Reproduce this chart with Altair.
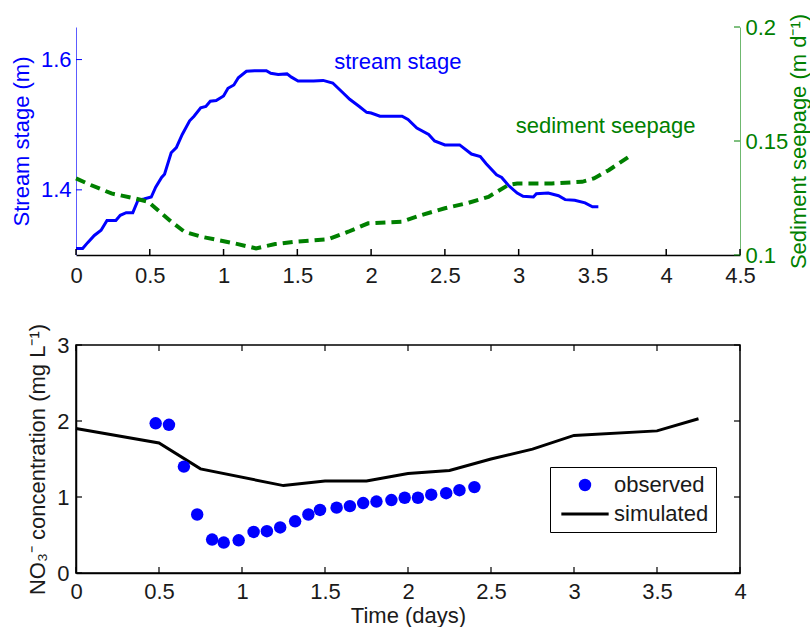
import altair as alt
import pandas as pd

FONT = "Liberation Sans"
FS = 22
BLUE = "#0000ff"
GREEN = "#008000"
INK = "#1a1a1a"

# ---------------- data ----------------
stage_t = [0, 0.045, 0.079, 0.124, 0.17, 0.21, 0.27, 0.30, 0.34, 0.385, 0.42, 0.46, 0.51, 0.54,
           0.58, 0.60, 0.645, 0.68, 0.72, 0.77, 0.80, 0.845, 0.88, 0.91, 0.95, 1.0, 1.03, 1.07,
           1.10, 1.155, 1.21, 1.29, 1.32, 1.37, 1.43, 1.46, 1.505, 1.61, 1.675, 1.74, 1.80,
           1.855, 1.92, 1.97, 2.0, 2.06, 2.21, 2.25, 2.31, 2.39, 2.43, 2.50, 2.60, 2.68, 2.74,
           2.78, 2.85, 2.885, 2.93, 2.99, 3.03, 3.10, 3.12, 3.20, 3.27, 3.315, 3.38, 3.45, 3.50, 3.54]
stage_m = [1.310, 1.310, 1.319, 1.330, 1.338, 1.353, 1.353, 1.361, 1.365, 1.365, 1.384, 1.386,
           1.389, 1.404, 1.419, 1.424, 1.457, 1.465, 1.485, 1.506, 1.513, 1.526, 1.528, 1.536,
           1.537, 1.544, 1.556, 1.561, 1.572, 1.582, 1.583, 1.583, 1.579, 1.577, 1.578, 1.573,
           1.567, 1.567, 1.568, 1.564, 1.551, 1.539, 1.528, 1.519, 1.518, 1.513, 1.513, 1.508,
           1.495, 1.485, 1.475, 1.469, 1.469, 1.455, 1.451, 1.440, 1.423, 1.419, 1.407, 1.395,
           1.390, 1.389, 1.394, 1.395, 1.391, 1.385, 1.384, 1.380, 1.374, 1.374]

seep_t = [0, 0.10, 0.24, 0.40, 0.49, 0.54, 0.645, 0.735, 0.85, 0.96, 1.075, 1.22, 1.35, 1.48,
          1.71, 1.845, 1.98, 2.21, 2.34, 2.50, 2.66, 2.795, 2.93, 2.99, 3.225, 3.43, 3.51, 3.61, 3.745]
seep_v = [0.1336, 0.1307, 0.1270, 0.1248, 0.1233, 0.1205, 0.1146, 0.1102, 0.1080, 0.1066,
          0.1051, 0.1029, 0.1048, 0.1058, 0.1069, 0.1102, 0.1139, 0.1146, 0.1175, 0.1205,
          0.1229, 0.1255, 0.1307, 0.1314, 0.1314, 0.1321, 0.1336, 0.1372, 0.1430]

obs_t = [0.48, 0.56, 0.65, 0.73, 0.82, 0.89, 0.98, 1.07, 1.15, 1.23, 1.32, 1.40, 1.47, 1.57,
         1.65, 1.73, 1.81, 1.90, 1.98, 2.06, 2.14, 2.23, 2.31, 2.40]
obs_c = [1.97, 1.95, 1.40, 0.77, 0.44, 0.40, 0.43, 0.54, 0.55, 0.60, 0.68, 0.77, 0.83, 0.86,
         0.88, 0.92, 0.94, 0.96, 0.99, 0.99, 1.03, 1.05, 1.09, 1.13]

sim_t = [0, 0.5, 0.75, 1.25, 1.5, 1.75, 2.0, 2.25, 2.5, 2.75, 3.0, 3.5, 3.75]
sim_c = [1.90, 1.71, 1.37, 1.15, 1.21, 1.21, 1.31, 1.35, 1.50, 1.63, 1.81, 1.87, 2.03]

series_names = ["observed", "simulated"]

top_x_ticks = [0, 0.5, 1, 1.5, 2, 2.5, 3, 3.5, 4, 4.5]
stage_ticks = [1.4, 1.6]
seep_ticks = [0.1, 0.15, 0.2]
bot_x_ticks = [0, 0.5, 1, 1.5, 2, 2.5, 3, 3.5, 4]
conc_ticks = [0, 1, 2, 3]

ann_text = ["stream stage", "sediment seepage"]
ann_x = [1.75, 2.98]
ann_y = [1.597, 0.1565]

W, H = 664, 228
GAP = 90
TL = 6  # inward tick length

# ---------------- scales & axes ----------------
xs_top = alt.Scale(domain=[0, 4.5], nice=False, zero=False)
ys_stage = alt.Scale(domain=[1.3, 1.65], nice=False, zero=False)
ys_seep = alt.Scale(domain=[0.1, 0.2], nice=False, zero=False)
xs_bot = alt.Scale(domain=[0, 4], nice=False, zero=False)
ys_conc = alt.Scale(domain=[0, 3], nice=False, zero=False)

x_axis_top = alt.Axis(values=top_x_ticks, title=None, ticks=False, grid=False, format="~g",
                      domainColor="black", domainWidth=1.5, labelFont=FONT, labelFontSize=FS,
                      labelColor=INK, labelPadding=10, labelFlush=False)
stage_axis = alt.Axis(values=stage_ticks, title="Stream stage (m)", orient="left", ticks=False,
                      grid=False, format=".1f", domainColor="#5c5cff", domainWidth=1,
                      labelFont=FONT, labelFontSize=FS, labelColor=BLUE, labelPadding=5,
                      titleFont=FONT, titleFontSize=FS, titleFontWeight="normal",
                      titleColor=BLUE, titlePadding=7)
seep_axis = alt.Axis(values=seep_ticks, title="Sediment seepage (m d\u207b\u00b9)", orient="right",
                     ticks=False, grid=False, format="~g", domainColor="#6fb86f", domainWidth=1,
                     labelFont=FONT, labelFontSize=FS, labelColor=GREEN, labelPadding=5,
                     titleFont=FONT, titleFontSize=FS, titleFontWeight="normal",
                     titleColor=GREEN, titlePadding=1, titleAngle=270, titleBaseline="top")
x_axis_bot = alt.Axis(values=bot_x_ticks, title="Time (days)", ticks=False, grid=False,
                      format="~g", domainColor="black", domainWidth=1.5, labelFont=FONT,
                      labelFontSize=FS, labelColor=INK, labelPadding=8, labelFlush=False,
                      titleFont=FONT, titleFontSize=FS, titleFontWeight="normal",
                      titleColor=INK, titlePadding=3)
conc_axis = alt.Axis(values=conc_ticks, title="NO\u2083\u207b concentration (mg L\u207b\u00b9)",
                     ticks=False, grid=False, format="d", domainColor="black", domainWidth=1.5,
                     labelFont=FONT, labelFontSize=FS, labelColor=INK, labelPadding=7,
                     titleFont=FONT, titleFontSize=FS, titleFontWeight="normal",
                     titleColor=INK, titlePadding=7)

# ---------------- top panel ----------------
stage_df = pd.DataFrame({"t": stage_t, "v": stage_m})
seep_df = pd.DataFrame({"t": seep_t, "v": seep_v})
ann_df = pd.DataFrame({"x": ann_x, "y": ann_y, "label": ann_text})

stage_line = alt.Chart(stage_df).mark_line(color=BLUE, strokeWidth=3).encode(
    x=alt.X("t:Q", scale=xs_top, axis=x_axis_top),
    y=alt.Y("v:Q", scale=ys_stage, axis=stage_axis),
)
stage_label = alt.Chart(ann_df).transform_filter(alt.datum.label == ann_text[0]).mark_text(
    align="left", baseline="middle", font=FONT, fontSize=FS, color=BLUE
).encode(
    x=alt.X("x:Q", scale=xs_top, axis=x_axis_top),
    y=alt.Y("y:Q", scale=ys_stage, axis=stage_axis),
    text="label:N",
)
stage_ticks_rule = alt.Chart(pd.DataFrame({"t": stage_ticks})).mark_rule(
    color=BLUE, strokeWidth=1
).encode(
    y=alt.Y("t:Q", scale=ys_stage, axis=stage_axis),
    x=alt.value(0), x2=alt.value(TL),
)
topx_ticks_rule = alt.Chart(pd.DataFrame({"t": top_x_ticks})).mark_rule(
    color="black", strokeWidth=1.5
).encode(
    x=alt.X("t:Q", scale=xs_top, axis=x_axis_top),
    y=alt.value(H), y2=alt.value(H - TL),
)
layer_a = alt.layer(stage_line, stage_label, stage_ticks_rule, topx_ticks_rule)

seep_line = alt.Chart(seep_df).mark_line(color=GREEN, strokeWidth=4, strokeDash=[10, 6]).encode(
    x=alt.X("t:Q", scale=xs_top, axis=x_axis_top),
    y=alt.Y("v:Q", scale=ys_seep, axis=seep_axis),
)
seep_label = alt.Chart(ann_df).transform_filter(alt.datum.label == ann_text[1]).mark_text(
    align="left", baseline="middle", font=FONT, fontSize=FS, color=GREEN
).encode(
    x=alt.X("x:Q", scale=xs_top, axis=x_axis_top),
    y=alt.Y("y:Q", scale=ys_seep, axis=seep_axis),
    text="label:N",
)
seep_ticks_rule = alt.Chart(pd.DataFrame({"t": seep_ticks})).mark_rule(
    color=GREEN, strokeWidth=1
).encode(
    y=alt.Y("t:Q", scale=ys_seep, axis=seep_axis),
    x=alt.value(W), x2=alt.value(W - TL),
)
layer_b = alt.layer(seep_line, seep_label, seep_ticks_rule)

top = alt.layer(layer_a, layer_b).resolve_scale(y="independent").properties(width=W, height=H)

# ---------------- bottom panel ----------------
obs_df = pd.DataFrame({"t": obs_t, "c": obs_c, "series": series_names[0]})
sim_df = pd.DataFrame({"t": sim_t, "c": sim_c})

legend = alt.Legend(title=None, orient="none", legendX=474, legendY=122 + H + GAP,
                    direction="vertical", strokeColor="black", fillColor="white", padding=7,
                    labelFont=FONT, labelFontSize=FS, labelColor=INK, symbolSize=155,
                    symbolStrokeWidth=0, symbolOffset=17, labelOffset=18, rowPadding=7,
                    symbolOpacity=1)

points = alt.Chart(obs_df).mark_point(filled=True, size=155, opacity=1).encode(
    x=alt.X("t:Q", scale=xs_bot, axis=x_axis_bot),
    y=alt.Y("c:Q", scale=ys_conc, axis=conc_axis),
    color=alt.Color("series:N", scale=alt.Scale(domain=series_names, range=[BLUE, "black"]),
                    legend=legend),
    shape=alt.Shape("series:N", scale=alt.Scale(domain=series_names,
                                                range=["circle", "M-3.8,-0.24H3.8V0.24H-3.8Z"]),
                    legend=legend),
)
sim_line = alt.Chart(sim_df).mark_line(color="black", strokeWidth=3).encode(
    x=alt.X("t:Q", scale=xs_bot, axis=x_axis_bot),
    y=alt.Y("c:Q", scale=ys_conc, axis=conc_axis),
)
botx_df = pd.DataFrame({"t": bot_x_ticks})
conc_df = pd.DataFrame({"t": conc_ticks})
bx_ticks_low = alt.Chart(botx_df).mark_rule(color="black", strokeWidth=1.2).encode(
    x=alt.X("t:Q", scale=xs_bot, axis=x_axis_bot), y=alt.value(H), y2=alt.value(H - TL))
bx_ticks_high = alt.Chart(botx_df).mark_rule(color="black", strokeWidth=1.2).encode(
    x=alt.X("t:Q", scale=xs_bot, axis=x_axis_bot), y=alt.value(0), y2=alt.value(TL))
cy_ticks_left = alt.Chart(conc_df).mark_rule(color="black", strokeWidth=1.2).encode(
    y=alt.Y("t:Q", scale=ys_conc, axis=conc_axis), x=alt.value(0), x2=alt.value(TL))
cy_ticks_right = alt.Chart(conc_df).mark_rule(color="black", strokeWidth=1.2).encode(
    y=alt.Y("t:Q", scale=ys_conc, axis=conc_axis), x=alt.value(W), x2=alt.value(W - TL))

bottom = alt.layer(sim_line, bx_ticks_low, bx_ticks_high, cy_ticks_left, cy_ticks_right,
                   points).properties(
    width=W, height=H, view=alt.ViewBackground(stroke="black", strokeWidth=1.5))

chart = alt.vconcat(top, bottom, spacing=GAP, bounds="flush").properties(
    padding={"left": 10, "top": 13, "right": 0, "bottom": 0}
).configure_view(strokeWidth=0)

chart.save("out.html", embed_options={"renderer": "svg", "actions": False})
